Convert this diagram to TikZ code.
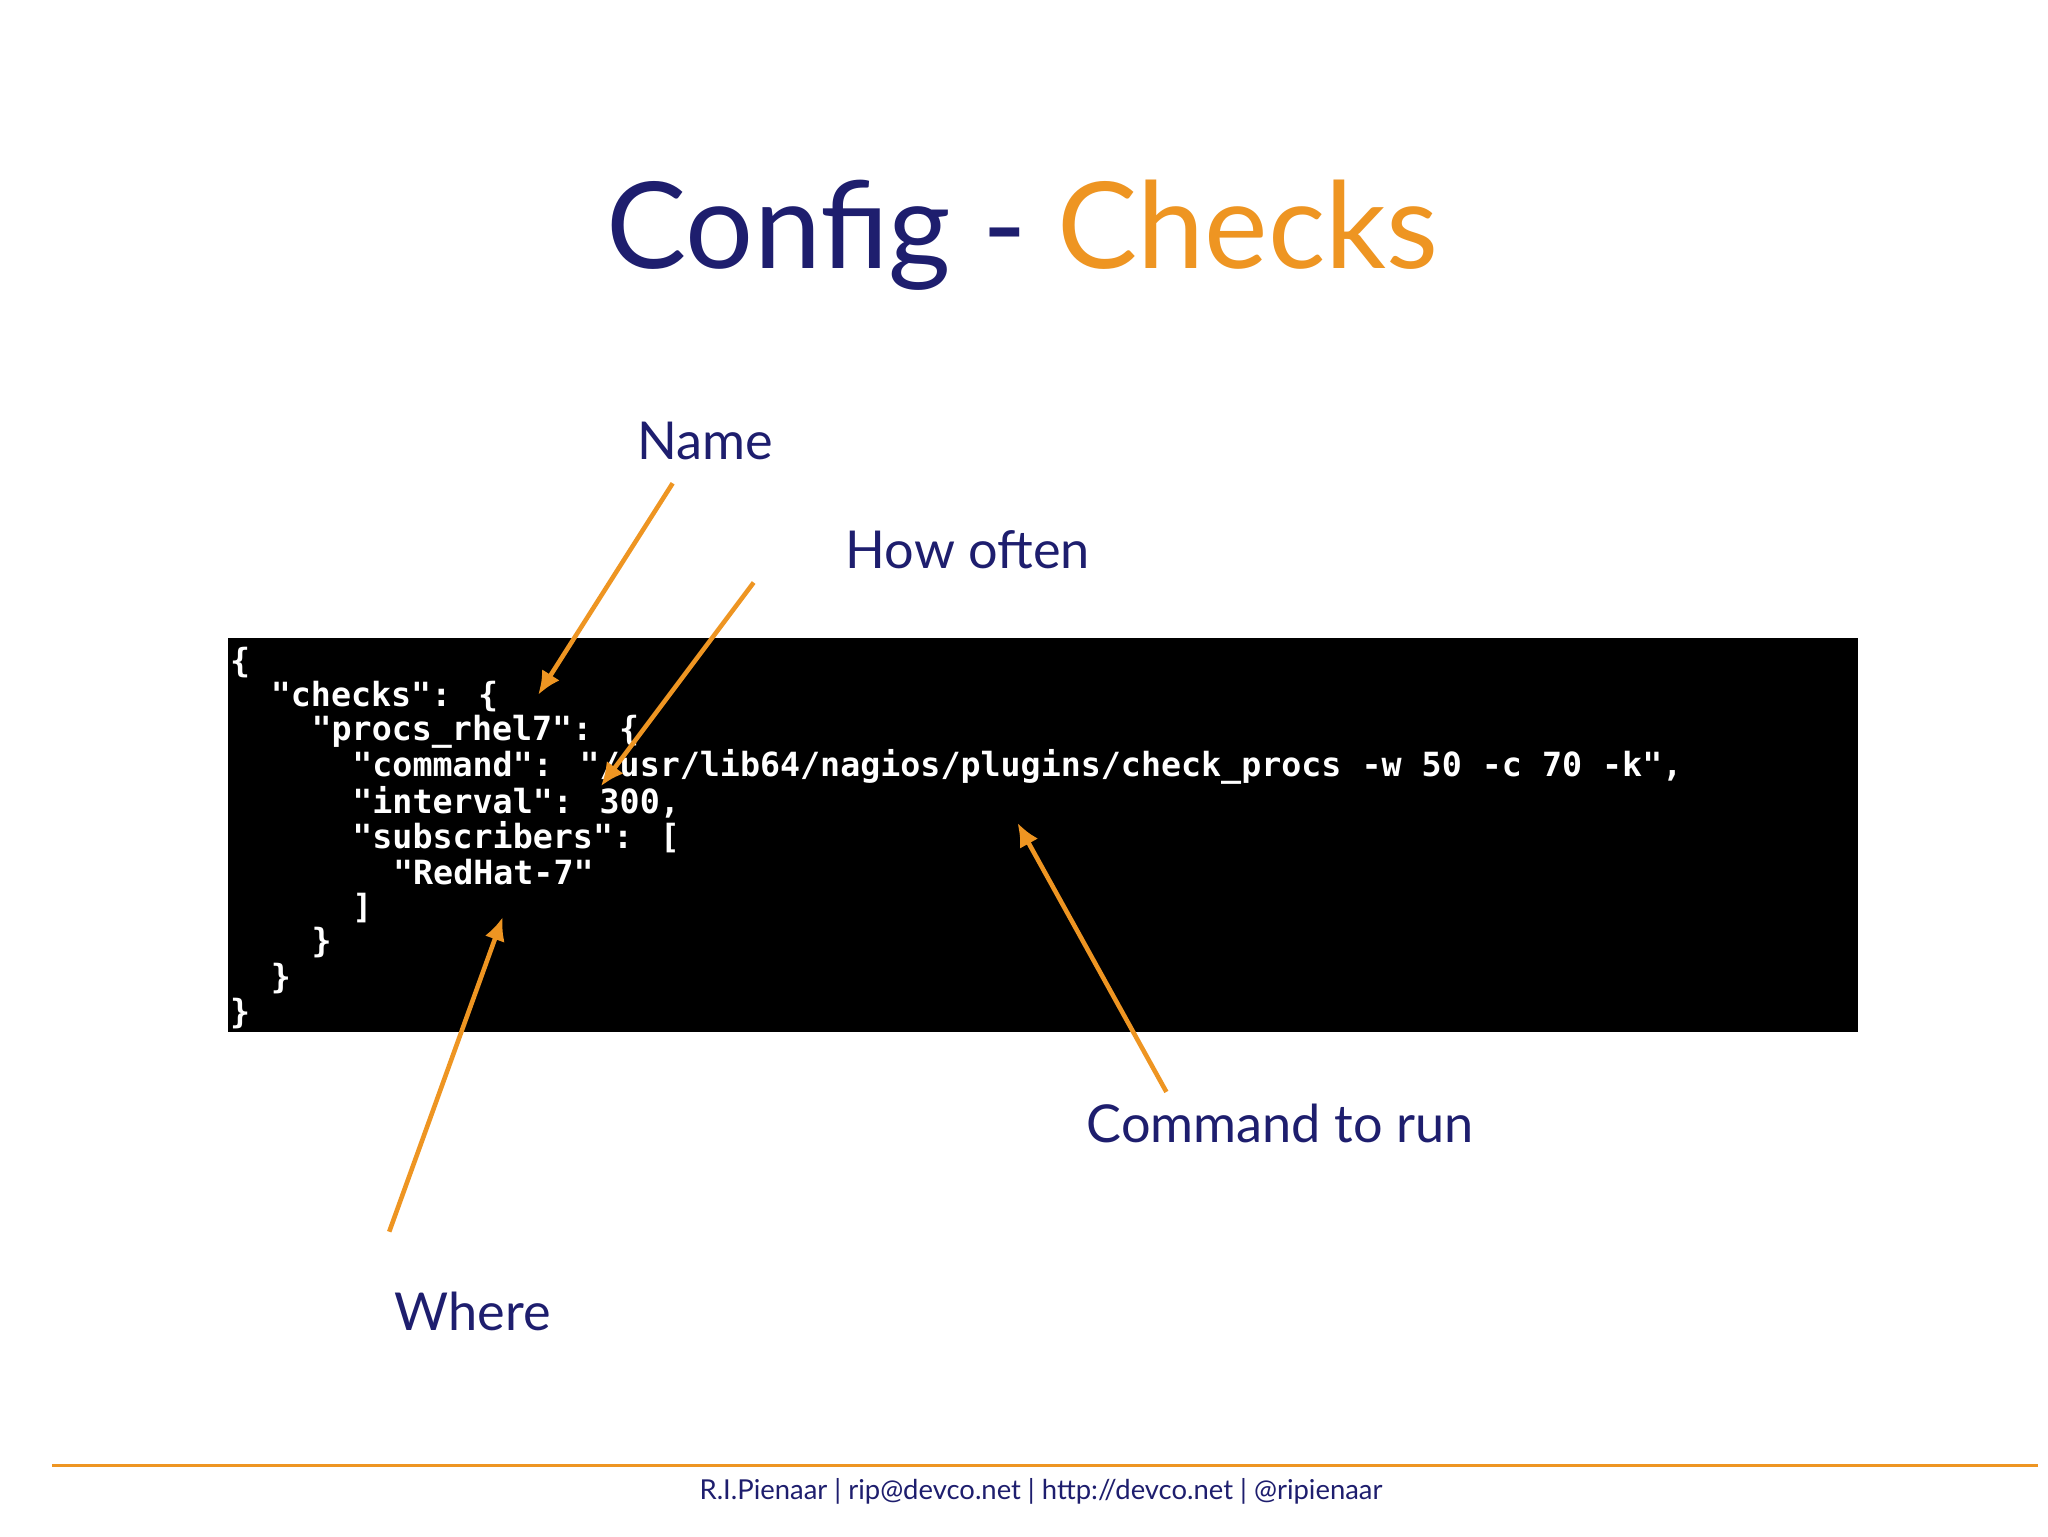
\documentclass[tikz,border=0pt]{standalone}
\usepackage{fontspec}
\setmainfont{Lato}
\newfontfamily\code{DejaVu Sans Mono}
\definecolor{navy}{HTML}{1E1E6E}
\definecolor{org}{HTML}{EE9522}
\begin{document}
\begin{tikzpicture}[x=1pt,y=-1pt,
 lbl/.style={text=navy,font=\fontsize{40}{44}\selectfont,inner sep=0},
 cl/.style={text=white,anchor=west,inner sep=0,font=\code\bfseries\fontsize{25.5}{27}\selectfont},
 arr/.style={draw=org,line width=3.5pt,-{Latex[length=18pt,width=16pt]}}]
\usetikzlibrary{arrows.meta}
\useasboundingbox (0,0) rectangle (1568,1176);
\fill[white] (0,0) rectangle (1568,1176);
\node[inner sep=0,font=\fontsize{92}{100}\selectfont] (title) at (783,180) {\textcolor{navy}{Config -} \textcolor{org}{Checks}};
\node[fill=black,minimum width=1248pt,minimum height=302pt,anchor=north west,inner sep=0] (box) at (174,488) {};
\def\cw{15.6}
\node[cl] (l1) at (176,507) {\{};
\node[cl] (l2) at (176+2*\cw,533) {"checks": \{};
\node[cl] (l3) at (176+4*\cw,560) {"procs\_rhel7": \{};
\node[cl] (l4) at (176+6*\cw,587) {"command": "/usr/lib64/nagios/plugins/check\_procs -w 50 -c 70 -k",};
\node[cl] (l5) at (176+6*\cw,614) {"interval": 300,};
\node[cl] (l6) at (176+6*\cw,641) {"subscribers": [};
\node[cl] (l7) at (176+8*\cw,668) {"RedHat-7"};
\node[cl] (l8) at (176+6*\cw,695) {]};
\node[cl] (l9) at (176+4*\cw,722) {\}};
\node[cl] (l10) at (176+2*\cw,749) {\}};
\node[cl] (l11) at (176,776) {\}};
\node[lbl] (name) at (540,338) {Name};
\node[lbl] (often) at (741,421) {How often};
\node[lbl] (cmd) at (980,860) {Command to run};
\node[lbl] (where) at (362,1004) {Where};
\coordinate (a1s) at (515,370); \coordinate (a1e) at (412,532);
\coordinate (a2s) at (577,446); \coordinate (a2e) at (460,602);
\coordinate (a3s) at (893,836); \coordinate (a3e) at (779,630);
\coordinate (a4s) at (298,943); \coordinate (a4e) at (385,702);
\draw[arr] (a1s) -- (a1e);
\draw[arr] (a2s) -- (a2e);
\draw[arr] (a3s) -- (a3e);
\draw[arr] (a4s) -- (a4e);
\coordinate (f1) at (40,1122); \coordinate (f2) at (1560,1122);
\draw[org,line width=3pt] (f1) -- (f2);
\node[text=navy,inner sep=0,font=\fontsize{21}{24}\selectfont] (foot) at (797,1142) {R.I.Pienaar | rip@devco.net | http://devco.net | @ripienaar};
\end{tikzpicture}
\end{document}
